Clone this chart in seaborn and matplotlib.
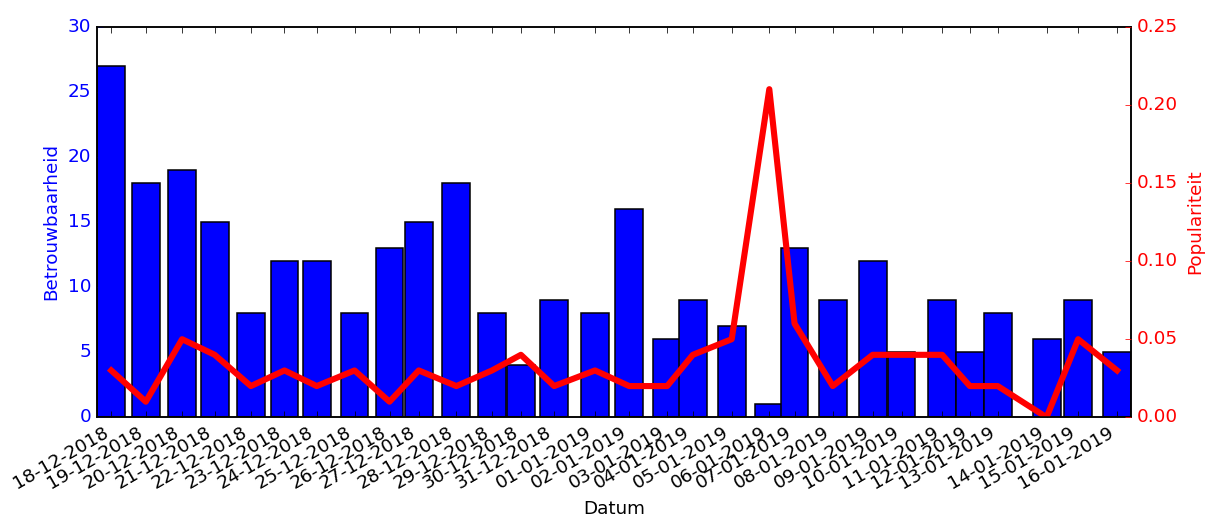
import pandas as pd
import seaborn as sns
import matplotlib.pyplot as plt
import matplotlib.dates as mdates

# Data: one point per day (timestamp of the day's items)
timestamps = [
    '2018-12-18 18:00', '2018-12-19 17:50', '2018-12-20 18:50', '2018-12-21 17:20',
    '2018-12-22 18:15', '2018-12-23 17:25', '2018-12-24 15:40', '2018-12-25 17:45',
    '2018-12-26 17:50', '2018-12-27 14:00', '2018-12-28 15:55', '2018-12-29 16:30',
    '2018-12-30 12:25', '2018-12-31 11:20', '2019-01-01 15:30', '2019-01-02 15:05',
    '2019-01-03 17:15', '2019-01-04 10:55', '2019-01-05 13:45', '2019-01-06 15:40',
    '2019-01-07 09:05', '2019-01-08 11:25', '2019-01-09 14:55', '2019-01-10 10:50',
    '2019-01-11 14:50', '2019-01-12 09:55', '2019-01-13 05:10', '2019-01-14 14:50',
    '2019-01-15 12:35', '2019-01-16 15:25',
]
betrouwbaarheid = [27, 18, 19, 15, 8, 12, 12, 8, 13, 15, 18, 8, 4, 9, 8,
                   16, 6, 9, 7, 1, 13, 9, 12, 5, 9, 5, 8, 6, 9, 5]
populariteit = [0.03, 0.01, 0.05, 0.04, 0.02, 0.03, 0.02, 0.03, 0.01, 0.03,
                0.02, 0.03, 0.04, 0.02, 0.03, 0.02, 0.02, 0.04, 0.05, 0.21,
                0.06, 0.02, 0.04, 0.04, 0.04, 0.02, 0.02, 0.00, 0.05, 0.03]

df = pd.DataFrame({
    'datum': pd.to_datetime(timestamps),
    'betrouwbaarheid': betrouwbaarheid,
    'populariteit': populariteit,
})

plt.style.use('classic')
plt.rcParams['font.family'] = ['DejaVu Sans']
plt.rcParams['font.size'] = 12

fig, ax = plt.subplots(figsize=(1206 / 110, 517 / 110), dpi=110)
fig.patch.set_facecolor('white')

# Bars on the left axis
ax.bar(df['datum'], df['betrouwbaarheid'], width=0.8, color='b',
       edgecolor='k', linewidth=1, align='center')
ax.set_ylim(0, 30)
ax.set_ylabel('Betrouwbaarheid', color='b')
ax.tick_params(axis='y', colors='b')
ax.tick_params(axis='x', top=True, bottom=True, direction='in')
ax.set_xlabel('Datum')

# Line on the right axis
ax2 = ax.twinx()
sns.lineplot(data=df, x='datum', y='populariteit', ax=ax2, color='r',
             linewidth=4)
ax2.set_ylim(0, 0.25)
ax2.set_ylabel('Populariteit', color='r')
ax2.tick_params(axis='y', colors='r')
ax2.set_xlabel('')

ax.set_xticks(df['datum'])
ax.xaxis.set_major_formatter(mdates.DateFormatter('%d-%m-%Y'))
first = mdates.date2num(df['datum'].iloc[0])
last = mdates.date2num(df['datum'].iloc[-1])
ax.set_xlim(first - 0.4, last + 0.4)

fig.autofmt_xdate()
fig.subplots_adjust(left=0.0807, right=0.9378, top=0.9484, bottom=0.1928)

fig.savefig('out.png', dpi=110, facecolor='white')
